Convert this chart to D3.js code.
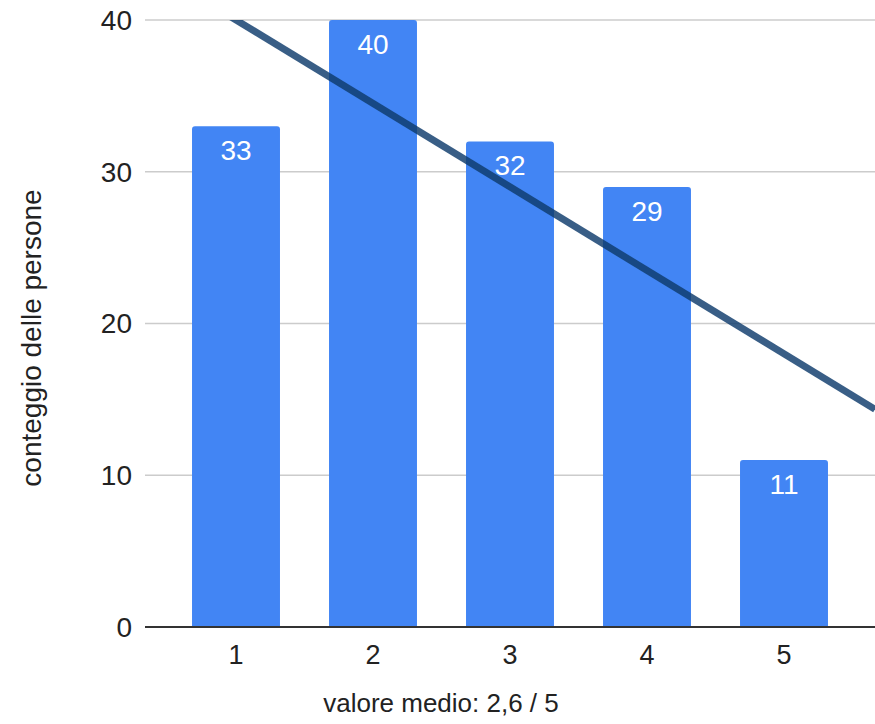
<!DOCTYPE html>
<html><head><meta charset="utf-8">
<script src="https://cdn.jsdelivr.net/npm/d3@7"></script>
<style>body{margin:0;background:#fff}svg{display:block}text{font-family:"Liberation Sans",Arial,sans-serif}</style>
</head><body>
<script>
const categories = ["1","2","3","4","5"];
const values = [33,40,32,29,11];
const yTicks = [0,10,20,30,40];
const xTitle = "valore medio: 2,6 / 5";
const yTitle = "conteggio delle persone";

const W = 875, H = 724;
const pL = 145, pR = 875, pT = 20, pB = 627;
const svg = d3.select("body").append("svg").attr("width", W).attr("height", H);

const x = d3.scaleBand().domain(categories).range([167.5, 852.5]).paddingInner(0.358).paddingOuter(0.179);
const y = d3.scaleLinear().domain([0,40]).range([pB, pT]);
// continuous x for trendline (category index)
const xc = d3.scaleLinear().domain([1,5]).range([x("1")+x.bandwidth()/2, x("5")+x.bandwidth()/2]);

// gridlines
svg.append("g").selectAll("line").data(yTicks.filter(d=>d>0)).join("line")
  .attr("x1", pL).attr("x2", pR).attr("y1", d=>y(d)).attr("y2", d=>y(d))
  .attr("stroke", "#cccccc").attr("stroke-width", 1.5);

// y tick labels
svg.append("g").selectAll("text").data(yTicks).join("text")
  .attr("x", 132).attr("y", d=>y(d)).attr("dy","0.35em").attr("text-anchor","end")
  .attr("font-size", 28).attr("fill", "#222").text(d=>d);

// bars with rounded tops
const r = 3;
svg.append("g").selectAll("path").data(values).join("path")
  .attr("fill", "#4285f4")
  .attr("d", (d,i)=>{
    const x0 = x(categories[i]), w = x.bandwidth(), y0 = y(d), y1 = y(0);
    return `M${x0},${y1}V${y0+r}Q${x0},${y0} ${x0+r},${y0}H${x0+w-r}Q${x0+w},${y0} ${x0+w},${y0+r}V${y1}Z`;
  });

// bar labels
svg.append("g").selectAll("text").data(values).join("text")
  .attr("x", (d,i)=>x(categories[i])+x.bandwidth()/2).attr("y", d=>y(d)+24).attr("dy","0.35em")
  .attr("text-anchor","middle").attr("font-size", 28).attr("fill","#fff").text(d=>d);

// baseline
svg.append("line").attr("x1", pL).attr("x2", pR).attr("y1", y(0)).attr("y2", y(0))
  .attr("stroke", "#333").attr("stroke-width", 2);

// x tick labels
svg.append("g").selectAll("text").data(categories).join("text")
  .attr("x", d=>x(d)+x.bandwidth()/2).attr("y", 655).attr("dy","0.35em")
  .attr("text-anchor","middle").attr("font-size", 27).attr("fill","#222").text(d=>d);

// linear trendline (least squares)
const xs = categories.map(Number);
const mx = d3.mean(xs), my = d3.mean(values);
const slope = d3.sum(xs, (v,i)=>(v-mx)*(values[i]-my)) / d3.sum(xs, v=>(v-mx)*(v-mx));
const icpt = my - slope*mx;
svg.append("clipPath").attr("id","plot").append("rect")
  .attr("x", pL).attr("y", pT).attr("width", pR-pL).attr("height", pB-pT);
const xa = xc.invert(pL), xb = xc.invert(pR);
svg.append("line").attr("clip-path","url(#plot)")
  .attr("x1", xc(xa)).attr("y1", y(icpt+slope*xa)).attr("x2", xc(xb)).attr("y2", y(icpt+slope*xb))
  .attr("stroke", "#0d3a6b").attr("stroke-opacity", 0.82).attr("stroke-width", 7);

// axis titles
svg.append("text").attr("x", 441).attr("y", 703).attr("dy","0.35em").attr("text-anchor","middle")
  .attr("font-size", 26).attr("fill","#222").text(xTitle);
svg.append("text").attr("transform","translate(31,338) rotate(-90)").attr("dy","0.35em")
  .attr("text-anchor","middle").attr("font-size", 28).attr("fill","#222").text(yTitle);
</script>
</body></html>
